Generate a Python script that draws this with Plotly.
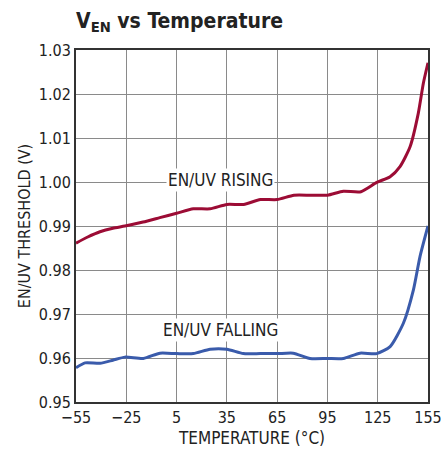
import plotly.graph_objects as go

temp_rising = [-55, -48, -40.7, -33, -25.8, -15, -5, 5, 15, 25, 35, 45, 55, 65, 75, 85, 95, 104.5, 115, 124.4, 132.4, 138.3, 144.3, 149.2, 152.2, 155]
v_rising = [0.9861, 0.9875, 0.9887, 0.9895, 0.9900, 0.9909, 0.9919, 0.9929, 0.9939, 0.9939, 0.9949, 0.9949, 0.9960, 0.9960, 0.9970, 0.9970, 0.9970, 0.9979, 0.9978, 0.9999, 1.0012, 1.0035, 1.0080, 1.0156, 1.0224, 1.0271]

temp_falling = [-55, -49.6, -40.7, -33, -25.8, -14.8, -4.9, 5, 15, 25, 35, 44.8, 55, 65, 74.6, 84.6, 95, 104.5, 114.4, 124.4, 132.4, 140.3, 146.3, 150.2, 155]
v_falling = [0.9578, 0.9589, 0.9588, 0.9595, 0.9602, 0.9599, 0.9611, 0.9610, 0.9610, 0.9620, 0.9620, 0.9610, 0.9610, 0.9610, 0.9611, 0.9599, 0.9599, 0.9599, 0.9611, 0.9610, 0.9626, 0.9679, 0.9755, 0.9830, 0.9900]

x_ticks = [-55, -25, 5, 35, 65, 95, 125, 155]
y_ticks = [0.95, 0.96, 0.97, 0.98, 0.99, 1.00, 1.01, 1.02, 1.03]

FONT = "DejaVu Sans Condensed, Liberation Sans Narrow, Arial Narrow, sans-serif"

fig = go.Figure()
fig.add_trace(go.Scatter(x=temp_rising, y=v_rising, mode="lines",
                         line=dict(color="#9c0c35", width=3, shape="spline", smoothing=0.6),
                         showlegend=False))
fig.add_trace(go.Scatter(x=temp_falling, y=v_falling, mode="lines",
                         line=dict(color="#3a5bab", width=3, shape="spline", smoothing=0.6),
                         showlegend=False))

fig.add_annotation(x=31, y=1.0005, text="EN/UV RISING", showarrow=False,
                   font=dict(family=FONT, size=17, color="#222"), bgcolor="white")
fig.add_annotation(x=31, y=0.9664, text="EN/UV FALLING", showarrow=False,
                   font=dict(family=FONT, size=17, color="#222"), bgcolor="white")

fig.update_layout(
    width=441, height=460,
    margin=dict(l=76, r=13, t=50, b=58),
    paper_bgcolor="white", plot_bgcolor="white",
    title=dict(text="<b>V<sub>EN</sub> vs Temperature</b>", x=76/441, xanchor="left",
               y=0.955, yanchor="middle",
               font=dict(family=FONT, size=21, color="#222")),
    font=dict(family=FONT, size=16, color="#222"),
)
fig.update_xaxes(range=[-55, 155], tickvals=x_ticks, ticktext=[("\u2212" + str(-t)) if t < 0 else str(t) for t in x_ticks],
                 showgrid=True, gridcolor="#8a8a8a", gridwidth=1,
                 showline=True, linecolor="#333", linewidth=2, mirror=True,
                 ticks="", zeroline=False, ticklabeloverflow="allow", automargin=False,
                 title=dict(text="TEMPERATURE (°C)", standoff=6, font=dict(family=FONT, size=17)))
fig.update_yaxes(range=[0.95, 1.03], tickvals=y_ticks, ticktext=[f"{v:.2f}" for v in y_ticks],
                 showgrid=True, gridcolor="#8a8a8a", gridwidth=1,
                 showline=True, linecolor="#333", linewidth=2, mirror=True,
                 ticks="", zeroline=False, ticklabeloverflow="allow", automargin=False,
                 title=dict(text="EN/UV THRESHOLD (V)", standoff=4, font=dict(family=FONT, size=16)))

fig.write_html("out.html", post_script="document.body.style.margin='0';",
               config={"displayModeBar": False})
